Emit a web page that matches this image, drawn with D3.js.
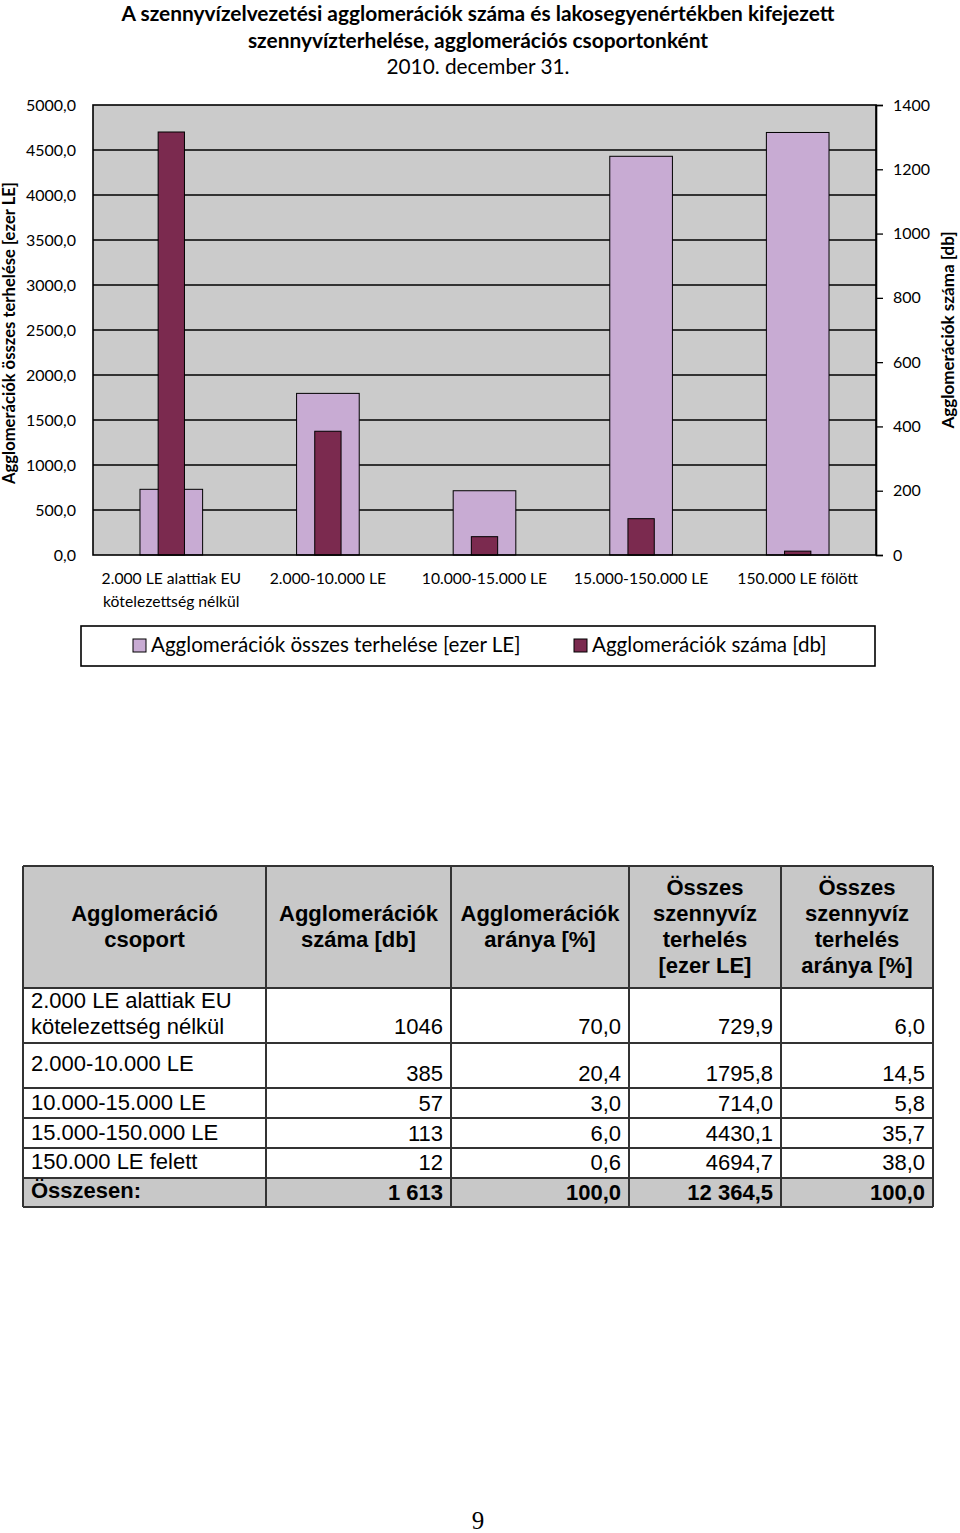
<!DOCTYPE html>
<html><head><meta charset="utf-8">
<script src="https://cdn.jsdelivr.net/npm/d3@7"></script>
<style>
html,body{margin:0;padding:0;background:#fff;}
svg{display:block;}
</style></head>
<body>
<script>
// ---------- DATA ----------
const titleLines = ["A szennyvízelvezetési agglomerációk száma és lakosegyenértékben kifejezett",
  "szennyvízterhelése, agglomerációs csoportonként", "2010. december 31."];
const categories = ["2.000 LE alattiak EU kötelezettség nélkül", "2.000-10.000 LE", "10.000-15.000 LE", "15.000-150.000 LE", "150.000 LE fölött"];
const categoryLabelLines = [["2.000 LE alattiak EU", "kötelezettség nélkül"], ["2.000-10.000 LE"], ["10.000-15.000 LE"], ["15.000-150.000 LE"], ["150.000 LE fölött"]];
const loadValues = [729.9, 1795.8, 714.0, 4430.1, 4694.7];   // ezer LE (left axis)
const countValues = [1316, 385, 57, 113, 12];                 // db (right axis)
const leftTicks = [0, 500, 1000, 1500, 2000, 2500, 3000, 3500, 4000, 4500, 5000];
const rightTicks = [0, 200, 400, 600, 800, 1000, 1200, 1400];
const seriesNames = ["Agglomerációk összes terhelése [ezer LE]", "Agglomerációk száma [db]"];
const leftAxisTitle = "Agglomerációk összes terhelése [ezer LE]";
const rightAxisTitle = "Agglomerációk száma [db]";

const tableHeader = [["Agglomeráció", "csoport"], ["Agglomerációk", "száma [db]"], ["Agglomerációk", "aránya [%]"],
  ["Összes", "szennyvíz", "terhelés", "[ezer LE]"], ["Összes", "szennyvíz", "terhelés", "aránya [%]"]];
const tableGroups = [["2.000 LE alattiak EU", "kötelezettség nélkül"], ["2.000-10.000 LE"], ["10.000-15.000 LE"], ["15.000-150.000 LE"], ["150.000 LE felett"], ["Összesen:"]];
const tableCounts = ["1046", "385", "57", "113", "12", "1 613"];
const tableShares = ["70,0", "20,4", "3,0", "6,0", "0,6", "100,0"];
const tableLoads = ["729,9", "1795,8", "714,0", "4430,1", "4694,7", "12 364,5"];
const tableLoadShares = ["6,0", "14,5", "5,8", "35,7", "38,0", "100,0"];
const pageNumber = "9";

// ---------- LAYOUT ----------
const W = 960, H = 1533;
const chartFont = "Lato, 'Open Sans', sans-serif";
const tableFont = "'Liberation Sans', Arial, sans-serif";
const lightColor = "#c8abd3", darkColor = "#7b2a4f", plotBg = "#cbcbcb";

const svg = d3.select("body").append("svg").attr("width", W).attr("height", H);

// title
svg.append("g").selectAll("text").data(titleLines).join("text")
  .attr("x", 478).attr("y", (d, i) => 21 + i * 26.5)
  .attr("text-anchor", "middle")
  .attr("font-family", chartFont)
  .attr("font-weight", (d, i) => i < 2 ? "bold" : "normal")
  .attr("font-size", (d, i) => i < 2 ? 20.9 : 20.8)
  .attr("fill", "#000")
  .text(d => d);

const plot = {left: 93, right: 876, top: 105, bottom: 555};
const x = d3.scaleBand().domain(categories).range([plot.left, plot.right]);
const yL = d3.scaleLinear().domain([0, 5000]).range([plot.bottom, plot.top]);
const yR = d3.scaleLinear().domain([0, 1400]).range([plot.bottom, plot.top]);

svg.append("rect").attr("x", plot.left).attr("y", plot.top)
  .attr("width", plot.right - plot.left).attr("height", plot.bottom - plot.top)
  .attr("fill", plotBg);

// gridlines
svg.append("g").selectAll("line").data(leftTicks.slice(1, -1)).join("line")
  .attr("x1", plot.left).attr("x2", plot.right)
  .attr("y1", d => yL(d)).attr("y2", d => yL(d))
  .attr("stroke", "#000").attr("stroke-width", 1.3);

// bars
const bw = x.bandwidth();
svg.append("g").selectAll("rect").data(categories).join("rect")
  .attr("x", d => x(d) + bw / 2 - bw * 0.2)
  .attr("width", bw * 0.4)
  .attr("y", (d, i) => yL(loadValues[i]))
  .attr("height", (d, i) => plot.bottom - yL(loadValues[i]))
  .attr("fill", lightColor).attr("stroke", "#000").attr("stroke-width", 1);

svg.append("g").selectAll("rect").data(categories).join("rect")
  .attr("x", d => x(d) + bw / 2 - bw * 0.084)
  .attr("width", bw * 0.168)
  .attr("y", (d, i) => yR(countValues[i]))
  .attr("height", (d, i) => plot.bottom - yR(countValues[i]))
  .attr("fill", darkColor).attr("stroke", "#000").attr("stroke-width", 1);

// plot border
svg.append("rect").attr("x", plot.left).attr("y", plot.top)
  .attr("width", plot.right - plot.left).attr("height", plot.bottom - plot.top)
  .attr("fill", "none").attr("stroke", "#000").attr("stroke-width", 1.6);

// left axis
const fmtL = d => d.toFixed(1).replace(".", ",");
const gL = svg.append("g").attr("transform", `translate(${plot.left},0)`)
  .call(d3.axisLeft(yL).tickValues(leftTicks).tickSize(0).tickPadding(17).tickFormat(fmtL));
gL.select(".domain").remove();
gL.selectAll("text").attr("font-family", chartFont).attr("font-size", 16).attr("fill", "#000");

// right axis
const gR = svg.append("g").attr("transform", `translate(${plot.right},0)`)
  .call(d3.axisRight(yR).tickValues(rightTicks).tickSize(7).tickPadding(10).tickFormat(d3.format("d")));
gR.select(".domain").attr("stroke", "#000").attr("stroke-width", 1.6);
gR.selectAll("line").attr("stroke", "#000").attr("stroke-width", 1.3);
gR.selectAll("text").attr("font-family", chartFont).attr("font-size", 16).attr("fill", "#000");

// category labels
const catG = svg.append("g");
categories.forEach((c, i) => {
  catG.append("text")
    .attr("x", x(c) + bw / 2).attr("y", 584)
    .attr("text-anchor", "middle")
    .attr("font-family", chartFont).attr("font-size", 15.7).attr("fill", "#000")
    .selectAll("tspan").data(categoryLabelLines[i]).join("tspan")
    .attr("x", x(c) + bw / 2).attr("dy", (d, j) => j === 0 ? 0 : 23)
    .text(d => d);
});

// axis titles
svg.append("text").attr("transform", "translate(15,333) rotate(-90)")
  .attr("text-anchor", "middle").attr("font-family", chartFont).attr("font-weight", "bold")
  .attr("font-size", 16.6).attr("fill", "#000").text(leftAxisTitle);
svg.append("text").attr("transform", "translate(954,330) rotate(-90)")
  .attr("text-anchor", "middle").attr("font-family", chartFont).attr("font-weight", "bold")
  .attr("font-size", 17).attr("fill", "#000").text(rightAxisTitle);

// legend
svg.append("rect").attr("x", 81).attr("y", 626).attr("width", 794).attr("height", 40)
  .attr("fill", "#fff").attr("stroke", "#000").attr("stroke-width", 1.6);
const legItems = [{name: seriesNames[0], color: lightColor, x: 133}, {name: seriesNames[1], color: darkColor, x: 574}];
const lg = svg.append("g").selectAll("g").data(legItems).join("g");
lg.append("rect").attr("x", d => d.x).attr("y", 639).attr("width", 13).attr("height", 13)
  .attr("fill", d => d.color).attr("stroke", "#000").attr("stroke-width", 1);
lg.append("text").attr("x", d => d.x + 18).attr("y", 652)
  .attr("font-family", chartFont).attr("font-size", 20.6).attr("fill", "#000").text(d => d.name);

// ---------- TABLE ----------
const colX = [23, 266, 451, 629, 781, 933];
const rowY = [866, 988, 1043, 1088, 1118, 1148, 1178, 1207];
const tbl = svg.append("g");
tbl.append("rect").attr("x", colX[0]).attr("y", rowY[0]).attr("width", colX[5] - colX[0]).attr("height", rowY[1] - rowY[0]).attr("fill", "#c8c8c8");
tbl.append("rect").attr("x", colX[0]).attr("y", rowY[6]).attr("width", colX[5] - colX[0]).attr("height", rowY[7] - rowY[6]).attr("fill", "#c8c8c8");
tbl.selectAll("line.h").data(rowY).join("line").attr("class", "h")
  .attr("x1", colX[0]).attr("x2", colX[5]).attr("y1", d => d).attr("y2", d => d)
  .attr("stroke", "#333").attr("stroke-width", 2);
colX.forEach(cx => {
  tbl.append("line").attr("x1", cx).attr("x2", cx).attr("y1", rowY[0]).attr("y2", rowY[7])
    .attr("stroke", "#333").attr("stroke-width", 2);
});
const headCenters = colX.slice(0, 5).map((c, i) => (c + colX[i + 1]) / 2);
tableHeader.forEach((lines, ci) => {
  const n = lines.length;
  const startY = 934 - (n - 1) * 13;
  tbl.append("text").attr("text-anchor", "middle")
    .attr("font-family", tableFont).attr("font-weight", "bold").attr("font-size", 22).attr("fill", "#000")
    .selectAll("tspan").data(lines).join("tspan")
    .attr("x", headCenters[ci]).attr("y", (d, j) => startY + j * 26).text(d => d);
});
const labelBase = [1008, 1071, 1110, 1140, 1169, 1198];
const numBase = [1034, 1081, 1111, 1141, 1170, 1200];
tableGroups.forEach((lines, ri) => {
  const bold = ri === 5;
  tbl.append("text").attr("font-family", tableFont).attr("font-size", 22)
    .attr("font-weight", bold ? "bold" : "normal").attr("fill", "#000")
    .selectAll("tspan").data(lines).join("tspan")
    .attr("x", 31).attr("y", (d, j) => labelBase[ri] + j * 26).text(d => d);
  [tableCounts, tableShares, tableLoads, tableLoadShares].forEach((col, k) => {
    tbl.append("text").attr("x", colX[k + 2] - 8).attr("y", numBase[ri])
      .attr("text-anchor", "end").attr("font-family", tableFont).attr("font-size", 22)
      .attr("font-weight", bold ? "bold" : "normal").attr("fill", "#000").text(col[ri]);
  });
});

// page number
svg.append("text").attr("x", 478).attr("y", 1529).attr("text-anchor", "middle")
  .attr("font-family", "'Liberation Serif', 'DejaVu Serif', serif").attr("font-size", 25).attr("fill", "#000").text(pageNumber);
</script>
</body></html>
